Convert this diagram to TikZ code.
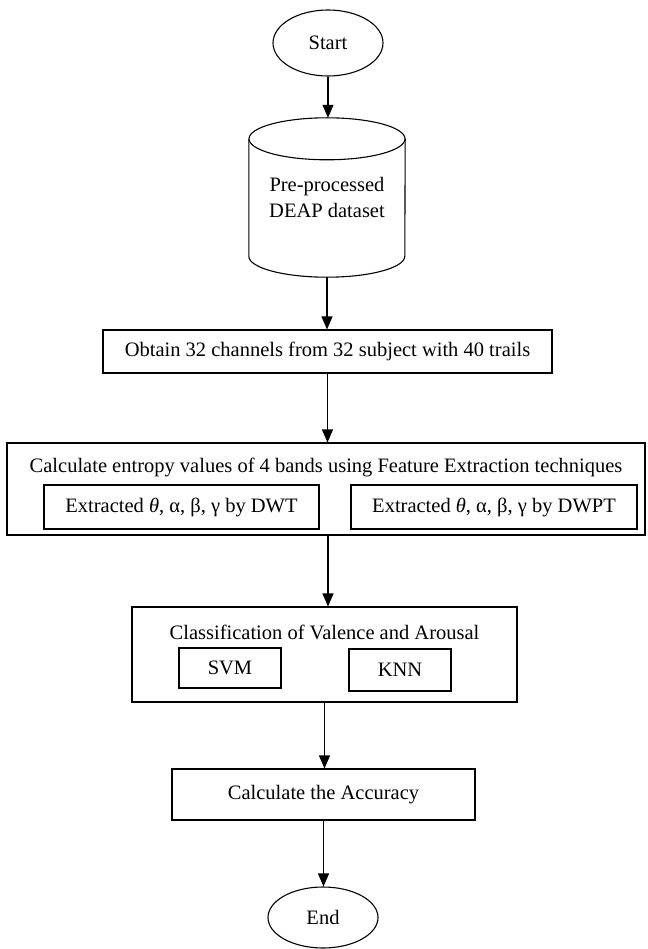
\documentclass[tikz,border=0pt]{standalone}
\usepackage{fontspec}
\setmainfont{Liberation Serif}
\usetikzlibrary{arrows.meta,shapes.geometric}
\begin{document}
\begin{tikzpicture}[x=1pt,y=-1pt,
  every node/.style={font=\fontsize{20.5}{26}\selectfont, inner sep=0pt},
  box/.style={draw, line width=1.1pt, rectangle},
  term/.style={draw, line width=1.1pt, ellipse},
  arr/.style={line width=1.1pt, -{Triangle[length=13pt,width=11pt]}}]
\useasboundingbox (0,0) rectangle (647,949);
\fill[white] (0,0) rectangle (647,949);

\node[term, minimum width=110pt, minimum height=66pt] (start) at (328,43) {Start};

\node[minimum width=156pt, minimum height=159pt, align=center] (cyl) at (327,197.5) {Pre-processed\\DEAP dataset};
\draw[line width=1.1pt] ([yshift=-21pt]cyl.north) ellipse [x radius=78pt, y radius=21pt];
\draw[line width=1.1pt] ([yshift=-21pt]cyl.north west) -- ([yshift=21pt]cyl.south west)
  arc[start angle=180, end angle=360, x radius=78pt, y radius=21pt] -- ([yshift=-21pt]cyl.north east);

\node[box, minimum width=449pt, minimum height=43pt] (obtain) at (327.5,351.5) {Obtain 32 channels from 32 subject with 40 trails};

\node[box, minimum width=638pt, minimum height=92pt] (calc) at (326,489) {};
\node (calctitle) at (326,467) {Calculate entropy values of 4 bands using Feature Extraction techniques};
\node[box, minimum width=275pt, minimum height=44pt] (dwt) at (181.5,507) {Extracted \textit{θ}, α, β, γ by DWT};
\node[box, minimum width=286pt, minimum height=44pt] (dwpt) at (494,507) {Extracted \textit{θ}, α, β, γ by DWPT};

\node[box, minimum width=385pt, minimum height=95pt] (class) at (324.5,654.5) {};
\node (classtitle) at (324.5,632) {Classification of Valence and Arousal};
\node[box, minimum width=102pt, minimum height=40pt] (svm) at (230,668) {SVM};
\node[box, minimum width=102pt, minimum height=42pt] (knn) at (400,670) {KNN};

\node[box, minimum width=303pt, minimum height=51pt] (acc) at (323.5,794.5) {Calculate the Accuracy};

\node[term, minimum width=110pt, minimum height=61pt] (end) at (323,917.5) {End};

\draw[arr] (start.south) -- (start.south |- cyl.north);
\draw[arr] (cyl.south) -- (cyl.south |- obtain.north);
\draw[arr] (obtain.south) -- (obtain.south |- calc.north);
\draw[arr] ([xshift=2pt]calc.south) -- ([xshift=2pt]calc.south |- class.north);
\draw[arr] (class.south) -- (class.south |- acc.north);
\draw[arr] (acc.south) -- (acc.south |- end.north);
\end{tikzpicture}
\end{document}
